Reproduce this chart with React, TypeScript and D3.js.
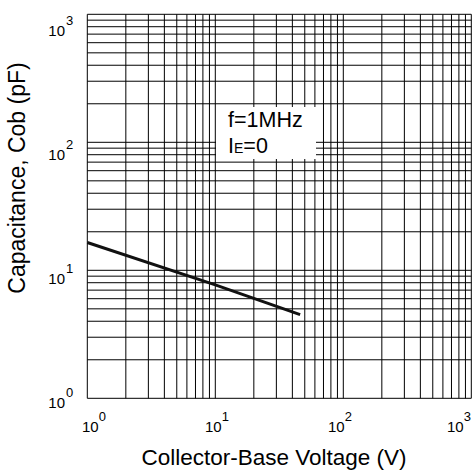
import React from "react";
import * as d3 from "d3";

const voltage = [1, 10, 46];
const capacitance = [16.5, 7.7, 4.5];
const decades = [1, 10, 100, 1000];
const decadeExps = ["0", "1", "2", "3"];
const xTitle = "Collector-Base Voltage (V)";
const yTitle = "Capacitance, Cob (pF)";
const note1 = "f=1MHz";

const W = 473;
const H = 472;
const FONT = "'Liberation Sans', Arial, Helvetica, sans-serif";

export default function App() {
  const x = d3.scaleLog().domain([1, 1000]).range([87.3, 471.3]);
  const y = d3.scaleLog().domain([1, 1000]).range([398.3, 14.3]);
  // label placement scales (labels in the reference drift slightly from gridlines)
  const xLab = d3.scaleLog().domain([1, 1000]).range([82, 451]);
  const yLab = d3.scaleLog().domain([1, 1000]).range([408, 36]);

  const minor: number[] = [];
  for (let e = 0; e < 3; e++) {
    for (let k = 1; k <= 9; k++) minor.push(k * Math.pow(10, e));
  }
  minor.push(1000);

  const line = d3
    .line<number>()
    .x((_, i) => x(voltage[i]))
    .y((d) => y(d));

  const box = { x0: 216, x1: 316, y0: 107, y1: 159 };

  return (
    <svg
      width={W}
      height={H}
      style={{ position: "absolute", left: 0, top: 0, display: "block", background: "#fff" }}
      fontFamily={FONT}
    >
      <rect x={0} y={0} width={W} height={H} fill="#fff" />
      <g stroke="#000" strokeWidth={1}>
        {minor.map((v, i) => (
          <line key={"v" + i} x1={x(v)} x2={x(v)} y1={y(1)} y2={y(1000)} />
        ))}
        {minor.map((v, i) => (
          <line key={"h" + i} x1={x(1)} x2={x(1000)} y1={y(v)} y2={y(v)} />
        ))}
      </g>
      <rect x={box.x0} y={box.y0} width={box.x1 - box.x0} height={box.y1 - box.y0} fill="#fff" />
      <text x={228} y={127} fontSize={21.5} fill="#000">{note1}</text>
      <text x={228} y={153} fontSize={21.5} fill="#000">
        I<tspan fontSize={14}>E</tspan>=0
      </text>
      <path d={line(capacitance) || ""} fill="none" stroke="#111" strokeWidth={3} />
      {decades.map((v, i) => (
        <text key={"yl" + i} x={65} y={yLab(v)} fontSize={15} textAnchor="end" fill="#000">
          10
        </text>
      ))}
      {decades.map((v, i) => (
        <text key={"ys" + i} x={66} y={yLab(v) - 11} fontSize={13} fill="#000">
          {decadeExps[i]}
        </text>
      ))}
      {decades.map((v, i) => (
        <text key={"xl" + i} x={Math.min(xLab(v), W - 26)} y={432} fontSize={15} fill="#000">
          10
          <tspan dx={0} dy={-11} fontSize={13}>{decadeExps[i]}</tspan>
        </text>
      ))}
      <text x={274} y={465} fontSize={22.5} textAnchor="middle" fill="#000">
        {xTitle}
      </text>
      <text
        transform={`translate(25,178) rotate(-90)`}
        fontSize={23}
        textAnchor="middle"
        fill="#000"
      >
        {yTitle}
      </text>
    </svg>
  );
}
